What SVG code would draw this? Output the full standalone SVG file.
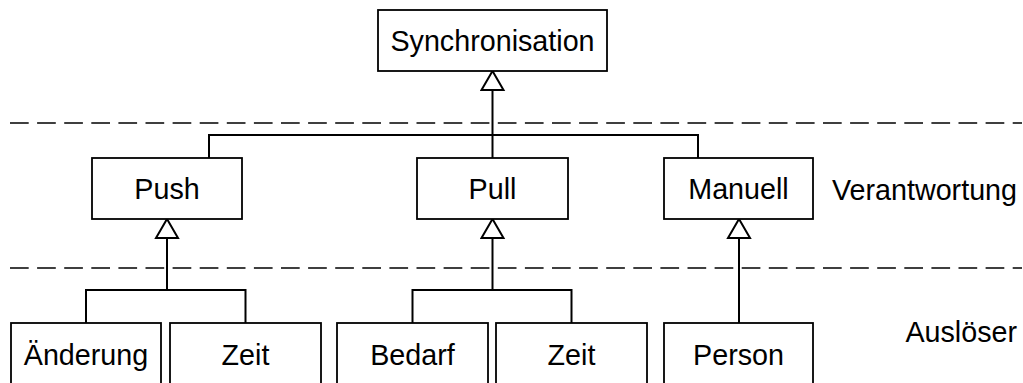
<svg xmlns="http://www.w3.org/2000/svg" width="1023" height="383" viewBox="0 0 1023 383">
  <style>
    .box { fill: #fff; stroke: #000; stroke-width: 1.8; }
    .lbl { font-family: "Liberation Sans", Arial, Helvetica, sans-serif; font-size: 28.7px; fill: #000; text-anchor: middle; }
    .side { font-family: "Liberation Sans", Arial, Helvetica, sans-serif; font-size: 28.7px; fill: #000; text-anchor: end; }
    .conn { fill: none; stroke: #000; stroke-width: 2; }
    .gen { fill: none; stroke: #000; stroke-width: 2; marker-end: url(#hollow); }
    .sep { stroke: #000; stroke-width: 1.6; stroke-dasharray: 18.7 8.4; }
  </style>
  <defs>
    <!-- hollow triangle for generalisation -->
    <marker id="hollow" markerUnits="userSpaceOnUse" viewBox="0 0 24 26" refX="21" refY="13" markerWidth="24" markerHeight="26" orient="auto">
      <path d="M2,2 L21,13 L2,24 Z" fill="#fff" stroke="#000" stroke-width="2" stroke-linejoin="miter"/>
    </marker>
  </defs>
  <rect width="1023" height="383" fill="#fff"/>

  <!-- layer separators -->
  <g id="separators">
    <line class="sep" x1="10" y1="123" x2="1022" y2="123"/>
    <line class="sep" x1="10" y1="268" x2="1022" y2="268"/>
  </g>

  <g id="layer-labels">
    <text class="side" x="1017" y="200">Verantwortung</text>
    <text class="side" x="1017" y="342">Auslöser</text>
  </g>

  <g id="connectors">
    <path class="conn" d="M209,158 V135 H698 V158"/>
    <path class="gen" d="M492.5,158 V71"/>
    <path class="conn" d="M86,323 V290 H245.5 V323"/>
    <path class="gen" d="M167,290 V219"/>
    <path class="conn" d="M412.5,323 V290 H571.5 V323"/>
    <path class="gen" d="M492.5,290 V219"/>
    <path class="gen" d="M739,323 V219"/>
  </g>

  <g id="synchronisation">
    <rect class="box" x="378" y="10" width="229" height="61"/>
    <text class="lbl" x="492.5" y="51">Synchronisation</text>
  </g>
  <g id="push">
    <rect class="box" x="92" y="158" width="150" height="61"/>
    <text class="lbl" x="167" y="199">Push</text>
  </g>
  <g id="pull">
    <rect class="box" x="417" y="158" width="151" height="61"/>
    <text class="lbl" x="492.5" y="199">Pull</text>
  </g>
  <g id="manuell">
    <rect class="box" x="664" y="158" width="149" height="61"/>
    <text class="lbl" x="738.5" y="199">Manuell</text>
  </g>
  <g id="aenderung">
    <rect class="box" x="11" y="323" width="150" height="61"/>
    <text class="lbl" x="86" y="365">Änderung</text>
  </g>
  <g id="zeit-push">
    <rect class="box" x="170" y="323" width="151" height="61"/>
    <text class="lbl" x="245.5" y="365">Zeit</text>
  </g>
  <g id="bedarf">
    <rect class="box" x="337" y="323" width="151" height="61"/>
    <text class="lbl" x="412.5" y="365">Bedarf</text>
  </g>
  <g id="zeit-pull">
    <rect class="box" x="496" y="323" width="151" height="61"/>
    <text class="lbl" x="571.5" y="365">Zeit</text>
  </g>
  <g id="person">
    <rect class="box" x="664" y="323" width="149" height="61"/>
    <text class="lbl" x="738.5" y="365">Person</text>
  </g>
</svg>
